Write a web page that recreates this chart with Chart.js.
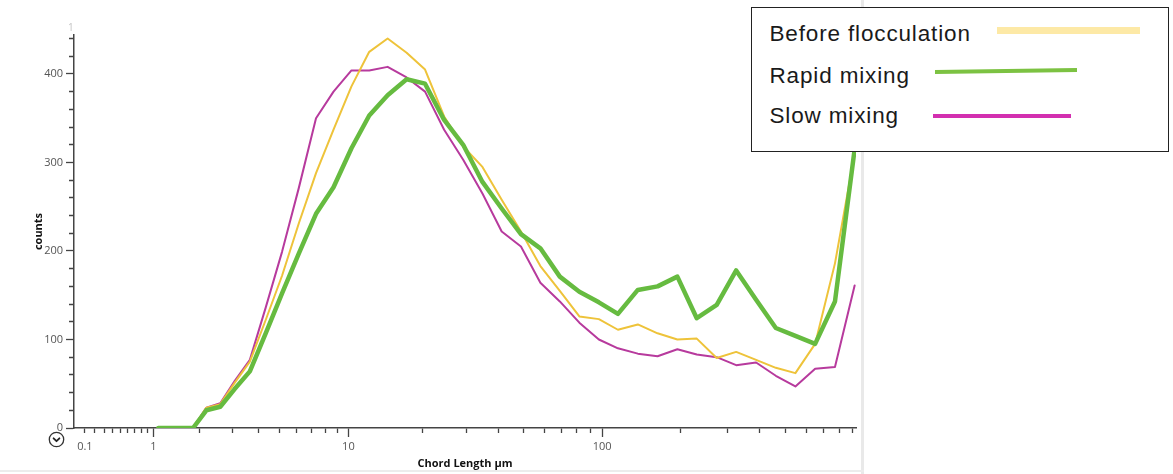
<!DOCTYPE html>
<html>
<head>
<meta charset="utf-8">
<title>Chord length distribution</title>
<script src="https://cdn.jsdelivr.net/npm/chart.js@4/dist/chart.umd.min.js"></script>
<style>
  html, body { margin: 0; padding: 0; background: #fff; }
  #stage { position: relative; width: 1173px; height: 474px; overflow: hidden; background: #fff; }
  #stage canvas { position: absolute; left: 0; top: 0; }
  .edge-v { position: absolute; left: 861px; top: 0; width: 3px; height: 474px; background: #e9e9e9; }
  .edge-h { position: absolute; left: 0; top: 470px; width: 864px; height: 2px; background: #ececec; }
  .ghost { position: absolute; left: 68px; top: 20px; font: 10px "Open Sans", sans-serif; color: #c4c4c4; }
  .collapse { position: absolute; left: 48px; top: 431px; }
  .legend-box { position: absolute; left: 751px; top: 7px; width: 418px; height: 145px; box-sizing: border-box;
                border: 1.5px solid #222; background: #fff; }
  .legend-text { position: absolute; font: 22.5px "Liberation Sans", Arial, sans-serif; line-height: 22px;
                 letter-spacing: 0.85px; color: #1a1a1a; white-space: nowrap; }
  .legend-line { position: absolute; }
</style>
</head>
<body>
<div id="stage">
  <canvas id="chart" width="1173" height="474"></canvas>
  <div class="edge-v"></div>
  <div class="edge-h"></div>
  <span class="ghost">1</span>
  <svg class="collapse" width="17" height="17" viewBox="0 0 17 17">
    <circle cx="8.5" cy="8.5" r="7.2" fill="none" stroke="#333" stroke-width="1.3"/>
    <polyline points="5.6,7.3 8.5,10.2 11.4,7.3" fill="none" stroke="#222" stroke-width="1.8" stroke-linecap="round" stroke-linejoin="round"/>
  </svg>
  <div class="legend-box"></div>
  <span class="legend-text" style="left:769.5px; top:22.8px;">Before flocculation</span>
  <span class="legend-text" style="left:769.5px; top:64.6px;">Rapid mixing</span>
  <span class="legend-text" style="left:769.5px; top:105.3px;">Slow mixing</span>
  <div class="legend-line" style="left:997px; top:27px; width:143px; height:7px; background:#fde9a6;"></div>
  <div class="legend-line" style="left:935px; top:68.7px; width:142px; height:3.8px; background:#7cc242; transform:rotate(-0.8deg);"></div>
  <div class="legend-line" style="left:933px; top:114.3px; width:138px; height:3.5px; background:#d32fb0;"></div>
</div>

<script>
// Chord length channel midpoints (µm)
const chordLength = [1.09, 1.30, 1.54, 1.83, 2.18, 2.59, 3.07, 3.65, 4.34, 5.16,
                     6.13, 7.29, 8.66, 10.3, 12.2, 14.5, 17.3, 20.5, 24.4, 29.0,
                     34.5, 41.0, 48.7, 57.9, 68.8, 81.8, 97.2, 115, 137, 163,
                     194, 230, 274, 325, 387, 460, 546, 649, 772, 917];

// Counts per channel
const beforeFlocculation = [0, 0, 0, 0, 23, 27, 51, 75, 122, 172,
                            231, 288, 337, 386, 425, 440, 424, 405, 352, 318,
                            295, 258, 222, 183, 155, 126, 123, 111, 117, 107,
                            100, 101, 79, 86, 77, 68, 62, 95, 186, 310];
const rapidMixing = [0, 0, 0, 0, 20, 24, 44, 64, 107, 152,
                     197, 242, 272, 316, 353, 376, 394, 389, 348, 320,
                     278, 248, 219, 203, 171, 154, 142, 129, 156, 160,
                     171, 124, 139, 178, 145, 113, 104, 95, 143, 315];
const slowMixing = [0, 0, 0, 0, 23, 28, 53, 77, 136, 199,
                    271, 350, 380, 404, 404, 408, 396, 380, 337, 303,
                    265, 222, 205, 164, 143, 119, 100, 90, 84, 81,
                    89, 83, 80, 71, 74, 59, 47, 67, 69, 161];

// Axis ticks
const xTicks = [0.1, 0.2, 0.3, 0.4, 0.5, 0.6, 0.7, 0.8, 0.9,
                1, 2, 3, 4, 5, 6, 7, 8, 9,
                10, 20, 30, 40, 50, 60, 70, 80, 90,
                100, 200, 300, 400, 500, 600, 700, 800, 900];
const xLabelled = [0.1, 1, 10, 100];
const xLongTicks = [1, 10, 100];
const yLabelled = [0, 100, 200, 300, 400];

// Axis whose positions follow log10(x + 1), so zero sits at the origin
class Log1pScale extends Chart.Scale {
  constructor(cfg) {
    super(cfg);
    this._startValue = 0;
    this._valueRange = 1;
  }
  parse(raw) {
    const v = +raw;
    return Number.isFinite(v) ? v : null;
  }
  determineDataLimits() {
    const { min, max } = this.getMinMax(false);
    this.min = min;
    this.max = max;
  }
  buildTicks() {
    return xTicks.filter(v => v >= this.min && v <= this.max).map(v => ({ value: v }));
  }
  getLabelForValue(value) {
    return String(value);
  }
  configure() {
    super.configure();
    this._startValue = Math.log10(this.min + 1);
    this._valueRange = Math.log10(this.max + 1) - this._startValue;
  }
  getPixelForValue(value) {
    if (value === undefined || value === null || isNaN(value)) return NaN;
    return this.getPixelForDecimal((Math.log10(value + 1) - this._startValue) / this._valueRange);
  }
  getValueForPixel(pixel) {
    return Math.pow(10, this._startValue + this.getDecimalForPixel(pixel) * this._valueRange) - 1;
  }
}
Log1pScale.id = 'log1p';
Log1pScale.defaults = {};
Chart.register(Log1pScale);

Chart.defaults.font.family = '"Open Sans", "Noto Sans", sans-serif';
Chart.defaults.font.size = 11;

const axisColor = '#444';

new Chart(document.getElementById('chart'), {
  type: 'line',
  data: {
    labels: chordLength,
    datasets: [
      { label: 'Rapid mixing', data: rapidMixing, borderColor: '#66bb40', borderWidth: 4.5, order: 0 },
      { label: 'Before flocculation', data: beforeFlocculation, borderColor: '#eec33a', borderWidth: 2, order: 1 },
      { label: 'Slow mixing', data: slowMixing, borderColor: '#b73a9d', borderWidth: 2, order: 2 }
    ]
  },
  options: {
    responsive: false,
    animation: false,
    events: [],
    layout: { padding: { left: 28, top: 35, right: 317, bottom: 0 } },
    elements: {
      point: { radius: 0 },
      line: { tension: 0, borderJoinStyle: 'round', borderCapStyle: 'round', fill: false }
    },
    plugins: { legend: { display: false }, tooltip: { enabled: false } },
    scales: {
      x: {
        type: 'log1p',
        min: 0,
        max: 928,
        border: { display: true, color: axisColor, width: 1.5 },
        grid: {
          drawOnChartArea: false,
          drawTicks: true,
          tickLength: 9,
          tickColor: axisColor,
          tickWidth: 1.3,
          tickBorderDash: ctx => (ctx.tick && xLongTicks.includes(ctx.tick.value)) ? [] : [4.5, 50]
        },
        ticks: {
          autoSkip: false,
          maxRotation: 0,
          padding: 3,
          color: '#555',
          font: { size: 11 },
          callback: value => xLabelled.includes(value) ? String(value) : ''
        },
        title: {
          display: true,
          text: 'Chord Length µm',
          color: '#111',
          font: { size: 11, weight: 'bold' },
          padding: { top: 0, bottom: 4 }
        },
        afterFit: scale => { scale.height = 46; }
      },
      y: {
        type: 'linear',
        min: 0,
        max: 444,
        border: { display: true, color: axisColor, width: 1.5 },
        grid: {
          drawOnChartArea: false,
          drawTicks: true,
          tickLength: 8,
          tickColor: axisColor,
          tickWidth: 1.3,
          tickBorderDash: ctx => (ctx.tick && yLabelled.includes(ctx.tick.value)) ? [] : [0, 3, 6, 50]
        },
        ticks: {
          stepSize: 20,
          includeBounds: false,
          autoSkip: false,
          padding: 3,
          color: '#555',
          font: { size: 11 },
          callback: value => yLabelled.includes(value) ? String(value) : ''
        },
        title: {
          display: true,
          text: 'counts',
          color: '#111',
          font: { size: 11, weight: 'bold' },
          padding: { top: 4, bottom: 0 }
        },
        afterFit: scale => { scale.width = 46; }
      }
    }
  }
});
</script>
</body>
</html>
